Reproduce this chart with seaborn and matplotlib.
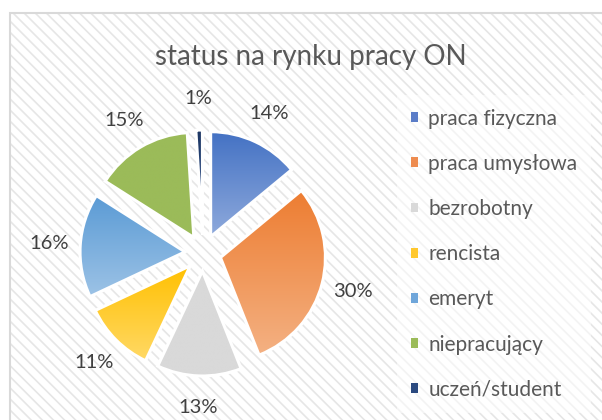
import numpy as np
import matplotlib
matplotlib.use("Agg")
import matplotlib.pyplot as plt
import seaborn as sns
from matplotlib.patches import Rectangle
from matplotlib.colors import LinearSegmentedColormap

categories = ["praca fizyczna", "praca umysłowa", "bezrobotny", "rencista",
              "emeryt", "niepracujący", "uczeń/student"]
values = [14, 30, 13, 11, 16, 15, 1]
title = "status na rynku pracy ON"

top_colors = ["#4472C4", "#ED7D31", "#D9D9D9", "#FFC000", "#5B9BD5", "#9BBB59", "#1F3864"]
bottom_colors = ["#8FAADC", "#F4B183", "#D9D9D9", "#FFD966", "#9DC3E6", "#9BBB59", "#2F5597"]
legend_colors = ["#5B7DC8", "#EE8C50", "#D9D9D9", "#FFC82E", "#6FA6DA", "#9BBB59", "#2B4A80"]

sns.set_theme(style="white")
plt.rcParams["font.family"] = ["Lato", "DejaVu Sans"]
plt.rcParams["hatch.linewidth"] = 1.2

W, H = 602, 420
fig = plt.figure(figsize=(W / 100, H / 100), dpi=100)
ax = fig.add_axes([0, 0, 1, 1])

# chart area background with diagonal stripes and light border
ax.add_patch(Rectangle((10, -20), W, H - 13 + 20, facecolor="white",
                       edgecolor="#E6E6E6", hatch="\\" * 3, linewidth=0, zorder=0))
ax.add_patch(Rectangle((10, -20), W, H - 13 + 20, fill=False,
                       edgecolor="#D9D9D9", linewidth=1.5, zorder=0.2))

cx, cy = 203, H - 253
wedges, texts, autotexts = ax.pie(
    values, center=(cx, cy), radius=105, explode=[18] * len(values),
    startangle=90, counterclock=False, colors=legend_colors,
    autopct="%1.0f%%", pctdistance=1.3,
    wedgeprops=dict(edgecolor="white", linewidth=2.2),
    textprops=dict(fontsize=14.5, color="#404040"))

grad = np.linspace(0, 1, 256).reshape(-1, 1)
for w, c1, c2 in zip(wedges, top_colors, bottom_colors):
    bb = w.get_path().get_extents()
    cmap = LinearSegmentedColormap.from_list("g", [c1, c2])
    im = ax.imshow(grad, cmap=cmap, extent=(bb.x0, bb.x1, bb.y0, bb.y1),
                   origin="upper", aspect="auto", interpolation="bilinear", zorder=0.9)
    im.set_clip_path(w)
    w.set_facecolor("none")
    w.set_zorder(1)

handles = [Rectangle((0, 0), 1, 1, facecolor=c, edgecolor="none") for c in legend_colors]
leg = ax.legend(handles, categories, loc="upper left", bbox_to_anchor=(397 / W, 1 - 95 / H),
                bbox_transform=fig.transFigure, frameon=True, fontsize=15,
                labelspacing=1.21, handlelength=0.36, handleheight=0.36,
                handletextpad=0.5, borderpad=0.65, borderaxespad=0)
for t in leg.get_texts():
    t.set_color("#595959")
fr = leg.get_frame()
fr.set_facecolor("white")
fr.set_alpha(0.55)
fr.set_edgecolor("none")
fr.set_boxstyle("square", pad=0)

ax.text(311, H - 57, title, ha="center", va="center", fontsize=20, color="#595959")

ax.set_xlim(0, W)
ax.set_ylim(0, H)
ax.set_aspect("equal")
ax.axis("off")
fig.savefig("out.png", dpi=100)
